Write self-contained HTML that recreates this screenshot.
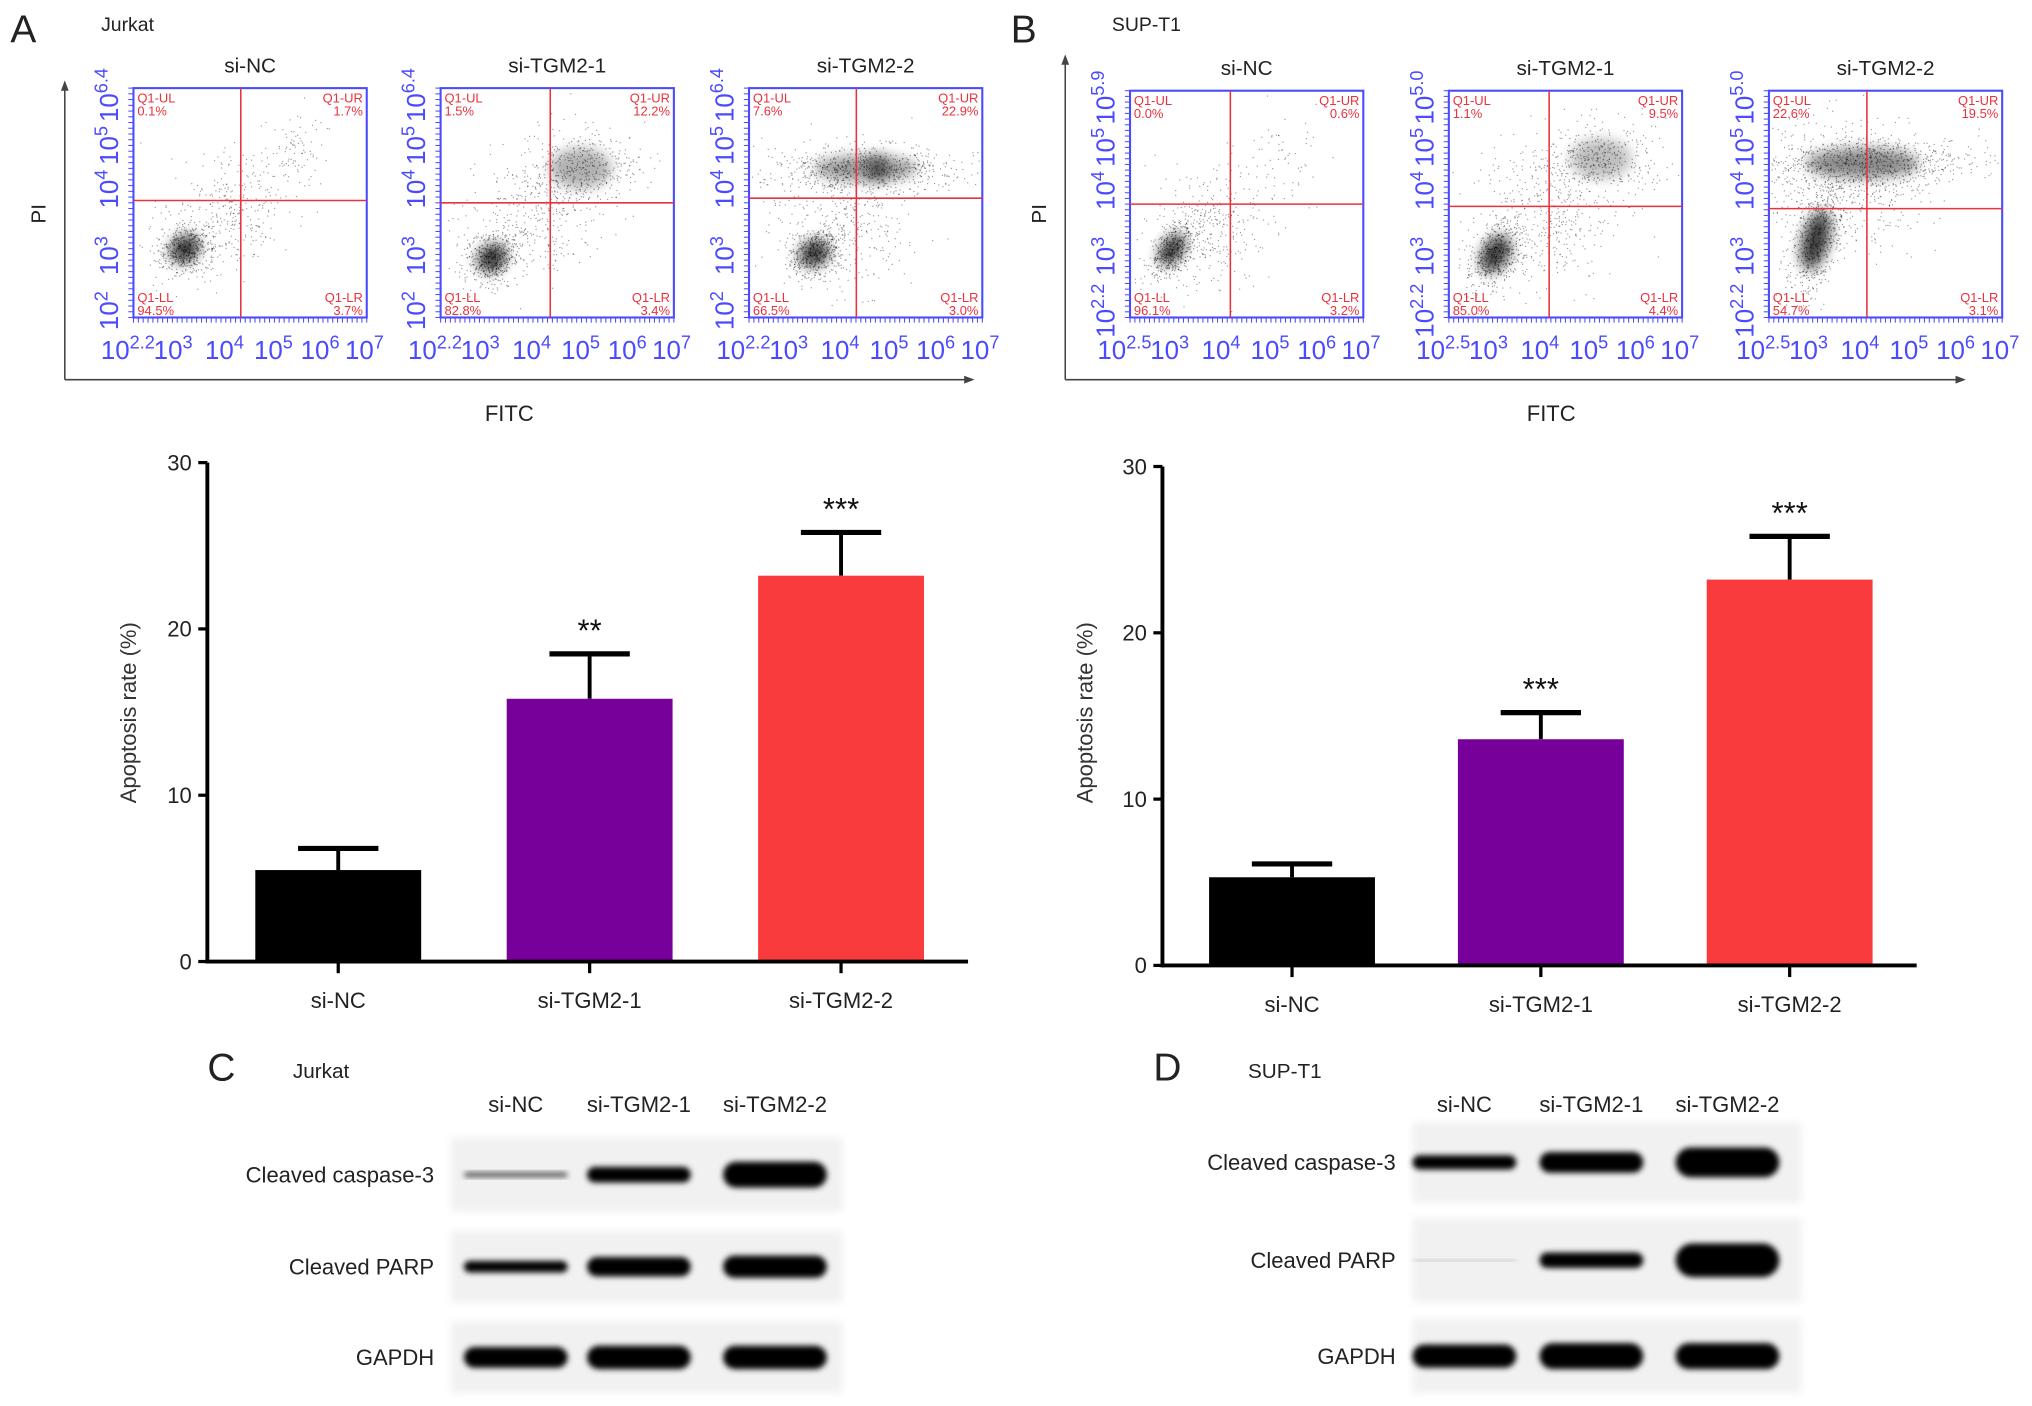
<!DOCTYPE html>
<html><head><meta charset="utf-8"><style>
html,body{margin:0;padding:0;background:#fff;}
svg{display:block;font-family:"Liberation Sans",sans-serif;}
</style></head><body>
<svg id="fig" width="2032" height="1406" viewBox="0 0 1568 1085" preserveAspectRatio="none" xmlns="http://www.w3.org/2000/svg">
<defs>
<filter id="blur2" x="-20%" y="-50%" width="140%" height="200%"><feGaussianBlur stdDeviation="2.2"/></filter>
<filter id="blur4" x="-50%" y="-50%" width="200%" height="200%"><feGaussianBlur stdDeviation="5"/></filter>
<filter id="blurBg"><feGaussianBlur stdDeviation="3"/></filter>
</defs>
<g id="root"></g>
</svg>
<script>
// ---- bar chart data ----
const barCategories = ["si-NC","si-TGM2-1","si-TGM2-2"];
const jurkatValues = [5.5, 15.8, 23.2];
const jurkatErrors = [1.3, 2.7, 2.6];
const jurkatStars = ["", "**", "***"];
const supt1Values = [5.3, 13.6, 23.2];
const supt1Errors = [0.8, 1.6, 2.6];
const supt1Stars = ["", "***", "***"];
const yTicks = [0, 10, 20, 30];
const barColors = ["#000000","#77009a","#f93b3e"];
// ---- flow quadrant data ----
const jurkatQuad = [["0.1%","1.7%","94.5%","3.7%"],["1.5%","12.2%","82.8%","3.4%"],["7.6%","22.9%","66.5%","3.0%"]];
const supt1Quad = [["0.0%","0.6%","96.1%","3.2%"],["1.1%","9.5%","85.0%","4.4%"],["22.6%","19.5%","54.7%","3.1%"]];
const jurkatYTop = "6.4";
const supt1YTop = ["5.9","5.0","5.0"];

const NS = "http://www.w3.org/2000/svg";
const root = document.getElementById('root');
function el(tag, attrs, parent, text){
  const e = document.createElementNS(NS, tag);
  for (const k in attrs) e.setAttribute(k, attrs[k]);
  if (text !== undefined) e.textContent = text;
  (parent||root).appendChild(e);
  return e;
}
let seed = 12345;
function rnd(){ seed = (seed*1103515245+12345)%2147483648; return seed/2147483648; }
function gauss(){ let u=rnd()||1e-6, v=rnd(); return Math.sqrt(-2*Math.log(u))*Math.cos(2*Math.PI*v); }

function txt(x,y,s,size,name,opts){
  const t = el('text', Object.assign({x:x,y:y,'font-size':size,fill:'#222'}, opts||{}), root, s);
  
  
  return t;
}
txt(8,33,"A",30,"panel-label-a");
txt(78,24,"Jurkat",15,"panel-a-title");
txt(780,33,"B",30,"panel-label-b");
txt(858,24,"SUP-T1",15,"panel-b-title");
txt(160,834,"C",30,"panel-label-c");
txt(226,832,"Jurkat",16,"panel-c-title");
txt(890,834,"D",30,"panel-label-d");
txt(963,832,"SUP-T1",16,"panel-d-title");

function flowAxes(x0, x1, yTopArrow, yBase, labelX, fitcX, name){
  const g = el('g', {}); 
  
  
  el('line',{x1:x0,y1:yBase,x2:x0,y2:yTopArrow+6,stroke:'#444','stroke-width':1.2},g);
  el('polygon',{points:`${x0-3},${yTopArrow+8} ${x0+3},${yTopArrow+8} ${x0},${yTopArrow}`,fill:'#444'},g);
  el('line',{x1:x0,y1:yBase,x2:x1-6,y2:yBase,stroke:'#444','stroke-width':1.2},g);
  el('polygon',{points:`${x1-8},${yBase-3} ${x1-8},${yBase+3} ${x1},${yBase}`,fill:'#444'},g);
  const pi = el('text',{x:labelX,y:165,'font-size':16,fill:'#222','text-anchor':'middle',transform:`rotate(-90 ${labelX} 165)`},g,"PI");
   
  const f = el('text',{x:fitcX,y:325,'font-size':17,fill:'#222','text-anchor':'middle'},g,"FITC");
   
}
flowAxes(50,752,62,293,35,393,"panel-a-axes");
flowAxes(822,1517,42,293,807,1197,"panel-b-axes");

function flowPlot(bx, by, bw, bh, qx, qy, title, quad, yTop, xLow, clusters, name){
  const g = el('g',{});
  
  
  const blue = '#4a4aff', red = '#e8323c';
  const t = el('text',{x:bx+bw/2,y:by-12,'font-size':16,fill:'#222','text-anchor':'middle'},g,title);
   
  clusters.forEach(c=>{
    if (c.blob) el('ellipse',{cx:bx+c.cx*bw,cy:by+c.cy*bh,rx:c.sx*bw*1.1,ry:c.sy*bh*1.1,fill:'#000',opacity:c.blob,filter:'url(#blur4)',transform:`rotate(${c.rot||0} ${bx+c.cx*bw} ${by+c.cy*bh})`},g);
    for(let i=0;i<c.n;i++){
      let a=gauss(), b=gauss();
      let rr=(c.rot||0)*Math.PI/180;
      let dx=a*c.sx*bw, dy=b*c.sy*bh;
      let x=bx+c.cx*bw+dx*Math.cos(rr)-dy*Math.sin(rr);
      let y=by+c.cy*bh+dx*Math.sin(rr)+dy*Math.cos(rr);
      if(x<bx+2||x>bx+bw-2||y<by+2||y>by+bh-2) continue;
      el('rect',{x:x.toFixed(1),y:y.toFixed(1),width:0.9,height:0.9,fill:'#000',opacity:0.4},g);
    }
  });
  el('rect',{x:bx,y:by,width:bw,height:bh,fill:'none',stroke:blue,'stroke-width':1.6},g);
  for(let i=0;i<=40;i++){ const yy=by+bh*i/40; el('line',{x1:bx-4,y1:yy,x2:bx,y2:yy,stroke:blue,'stroke-width':0.8},g); }
  for(let i=0;i<=48;i++){ const xx=bx+bw*i/48; el('line',{x1:xx,y1:by+bh,x2:xx,y2:by+bh+4,stroke:blue,'stroke-width':0.8},g); }
  el('line',{x1:bx+qx*bw,y1:by,x2:bx+qx*bw,y2:by+bh,stroke:red,'stroke-width':1.2},g);
  el('line',{x1:bx,y1:by+qy*bh,x2:bx+bw,y2:by+qy*bh,stroke:red,'stroke-width':1.2},g);
  const qs = {'font-size':10,fill:red};
  el('text',Object.assign({x:bx+3,y:by+11},qs),g,"Q1-UL");
  el('text',Object.assign({x:bx+3,y:by+21},qs),g,quad[0]);
  el('text',Object.assign({x:bx+bw-3,y:by+11,'text-anchor':'end'},qs),g,"Q1-UR");
  el('text',Object.assign({x:bx+bw-3,y:by+21,'text-anchor':'end'},qs),g,quad[1]);
  el('text',Object.assign({x:bx+3,y:by+bh-12},qs),g,"Q1-LL");
  el('text',Object.assign({x:bx+3,y:by+bh-2},qs),g,quad[2]);
  el('text',Object.assign({x:bx+bw-3,y:by+bh-12,'text-anchor':'end'},qs),g,"Q1-LR");
  el('text',Object.assign({x:bx+bw-3,y:by+bh-2,'text-anchor':'end'},qs),g,quad[3]);
  const xl = [ ["10",xLow,0], ["10","3",0.17], ["10","4",0.39], ["10","5",0.6], ["10","6",0.8], ["10","7",0.99] ];
  xl.forEach((l,i)=>{
    const x = bx + (i===0?-0.14:l[2])*bw;
    const tt = el('text',{x:x,y:by+bh+32,'font-size':20,fill:blue,'text-anchor':i===0?'start':'middle'},g);
    el('tspan',{},tt,l[0]);
    el('tspan',{dy:-8,'font-size':14},tt,l[1]);
  });
  const yl = [[xLow==="2.5"?"2.2":"2",0.97],["3",0.73],["4",0.44],["5",0.25],[yTop,0.03]];
  yl.forEach(l=>{
    const yy = by + l[1]*bh; const xx = bx-12;
    const tt = el('text',{x:xx,y:yy,'font-size':20,fill:blue,'text-anchor':'middle',transform:`rotate(-90 ${xx} ${yy})`},g);
    el('tspan',{},tt,"10");
    el('tspan',{dy:-8,'font-size':14},tt,l[0]);
  });
}
const jc1=[{cx:0.22,cy:0.7,sx:0.06,sy:0.05,n:500,blob:0.75,rot:-40},{cx:0.4,cy:0.55,sx:0.15,sy:0.12,n:350,rot:-40},{cx:0.7,cy:0.25,sx:0.06,sy:0.08,n:80}];
const jc2=[{cx:0.22,cy:0.74,sx:0.06,sy:0.05,n:500,blob:0.75,rot:-40},{cx:0.4,cy:0.55,sx:0.16,sy:0.14,n:400,rot:-40},{cx:0.6,cy:0.35,sx:0.12,sy:0.08,n:400,blob:0.3}];
const jc3=[{cx:0.28,cy:0.72,sx:0.06,sy:0.05,n:450,blob:0.75,rot:-30},{cx:0.4,cy:0.58,sx:0.15,sy:0.14,n:400,rot:-30},{cx:0.5,cy:0.35,sx:0.2,sy:0.05,n:700,blob:0.4},{cx:0.55,cy:0.35,sx:0.04,sy:0.05,n:0,blob:0.5}];
flowPlot(103,68,180,177,0.46,0.49,"si-NC",jurkatQuad[0],jurkatYTop,"2.2",jc1,"flow-plot-jurkat-si-nc");
flowPlot(340,68,180,177,0.47,0.5,"si-TGM2-1",jurkatQuad[1],jurkatYTop,"2.2",jc2,"flow-plot-jurkat-si-tgm2-1");
flowPlot(578,68,180,177,0.46,0.48,"si-TGM2-2",jurkatQuad[2],jurkatYTop,"2.2",jc3,"flow-plot-jurkat-si-tgm2-2");
const sc1=[{cx:0.18,cy:0.7,sx:0.04,sy:0.07,n:450,blob:0.75,rot:35},{cx:0.35,cy:0.6,sx:0.15,sy:0.12,n:350,rot:-40},{cx:0.65,cy:0.3,sx:0.08,sy:0.1,n:60}];
const sc2=[{cx:0.2,cy:0.72,sx:0.05,sy:0.08,n:500,blob:0.75,rot:30},{cx:0.4,cy:0.55,sx:0.15,sy:0.15,n:450},{cx:0.65,cy:0.3,sx:0.12,sy:0.08,n:400,blob:0.25}];
const sc3=[{cx:0.2,cy:0.66,sx:0.05,sy:0.12,n:600,blob:0.75,rot:15},{cx:0.35,cy:0.4,sx:0.18,sy:0.15,n:500},{cx:0.4,cy:0.32,sx:0.22,sy:0.06,n:800,blob:0.45}];
flowPlot(872,70,180,175,0.43,0.5,"si-NC",supt1Quad[0],supt1YTop[0],"2.5",sc1,"flow-plot-supt1-si-nc");
flowPlot(1118,70,180,175,0.43,0.51,"si-TGM2-1",supt1Quad[1],supt1YTop[1],"2.5",sc2,"flow-plot-supt1-si-tgm2-1");
flowPlot(1365,70,180,175,0.42,0.52,"si-TGM2-2",supt1Quad[2],supt1YTop[2],"2.5",sc3,"flow-plot-supt1-si-tgm2-2");

function barChart(o){
  const g = el('g',{});
  
  
  const yScale = v => o.y0 - (v/30)*(o.y0-o.y30);
  const xCenter = i => o.firstX + i*o.step;
  yTicks.forEach(t=>{
    const y=yScale(t);
    el('line',{x1:o.axisX-7,y1:y,x2:o.axisX,y2:y,stroke:'#000','stroke-width':2.5},g);
    const l=el('text',{x:o.axisX-12,y:y+6,'font-size':17,fill:'#222','text-anchor':'end'},g,String(t));
     
  });
  o.values.forEach((v,i)=>{
    const cx=xCenter(i), top=yScale(v), et=yScale(v+o.errors[i]);
    el('line',{x1:cx,y1:top,x2:cx,y2:et,stroke:'#000','stroke-width':3},g);
    el('line',{x1:cx-31,y1:et,x2:cx+31,y2:et,stroke:'#000','stroke-width':4},g);
    const r=el('rect',{x:cx-o.bw/2,y:top,width:o.bw,height:yScale(0)-top,fill:barColors[i]},g);
    
    
    if(o.stars[i]){
      const s=el('text',{x:cx,y:et-10,'font-size':24,fill:'#111','text-anchor':'middle'},g,o.stars[i]);
       
    }
    el('line',{x1:cx,y1:o.y0,x2:cx,y2:o.y0+9,stroke:'#000','stroke-width':2.5},g);
    const xl=el('text',{x:cx,y:o.y0+36,'font-size':17,fill:'#222','text-anchor':'middle'},g,barCategories[i]);
     
  });
  el('line',{x1:o.axisX,y1:o.y30,x2:o.axisX,y2:o.y0+1.5,stroke:'#000','stroke-width':3},g);
  el('line',{x1:o.axisX,y1:o.y0,x2:o.axisEnd,y2:o.y0,stroke:'#000','stroke-width':3},g);
  const yt=el('text',{x:o.labelX,y:550,'font-size':17,fill:'#333','text-anchor':'middle',transform:`rotate(-90 ${o.labelX} 550)`},g,"Apoptosis rate (%)");
   
}
barChart({name:"bar-chart-jurkat",values:jurkatValues,errors:jurkatErrors,stars:jurkatStars,axisX:160,axisEnd:747,y0:742,y30:357,firstX:261,step:194,bw:128,labelX:105});
barChart({name:"bar-chart-supt1",values:supt1Values,errors:supt1Errors,stars:supt1Stars,axisX:897,axisEnd:1479,y0:745,y30:360,firstX:997,step:192,bw:128,labelX:843});

function blot(o){
  const g = el('g',{});
  
  
  o.lanes.forEach((l,i)=>{
    const t=el('text',{x:o.laneX[i],y:o.laneY,'font-size':17,fill:'#222','text-anchor':'middle'},g,l);
     
  });
  o.rows.forEach((r,ri)=>{
    const rr=o.rowY[ri];
    el('rect',{x:o.x0,y:rr[0],width:o.x1-o.x0,height:rr[1]-rr[0],fill:'#f1f1f1',filter:'url(#blurBg)'},g);
    const lab=el('text',{x:o.labelRight,y:(rr[0]+rr[1])/2+6,'font-size':17,fill:'#222','text-anchor':'end'},g,r);
     
    o.bands[ri].forEach((b,i)=>{
      if(b<=0) return;
      const cx=o.laneX[i], cy=(rr[0]+rr[1])/2;
      const e=el('rect',{x:cx-40,y:cy-b/2,width:80,height:b,rx:b/2,fill:'#000',opacity:Math.min(1,0.35+b/14),filter:'url(#blur2)'},g);
       
    });
  });
}
blot({name:"western-blot-jurkat",lanes:barCategories,laneX:[398,493,598],laneY:858,x0:348,x1:650,labelRight:335,
  rows:["Cleaved caspase-3","Cleaved PARP","GAPDH"],rowY:[[878,935],[950,1005],[1020,1075]],
  bands:[[4,12,20],[9,15,17],[16,18,18]]});
blot({name:"western-blot-supt1",lanes:barCategories,laneX:[1130,1228,1333],laneY:858,x0:1090,x1:1390,labelRight:1077,
  rows:["Cleaved caspase-3","Cleaved PARP","GAPDH"],rowY:[[866,928],[940,1005],[1018,1075]],
  bands:[[11,16,23],[1,12,26],[18,20,20]]});
</script>
</body></html>
